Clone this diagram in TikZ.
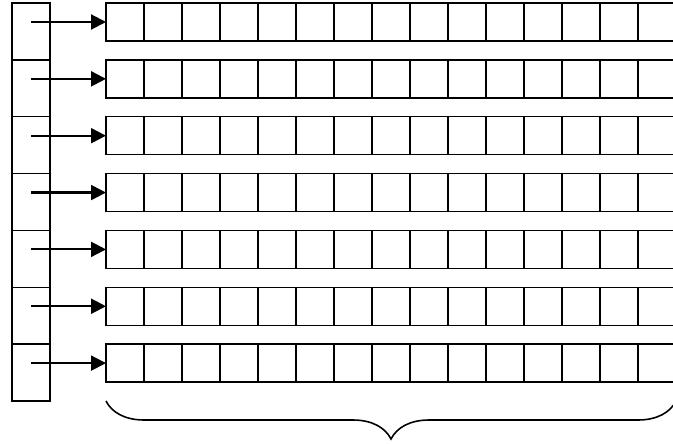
\documentclass[tikz,border=0pt]{standalone}
\usetikzlibrary{arrows.meta,positioning,decorations.pathreplacing}
\tikzset{
  ptr/.style={draw, line width=0.8pt, minimum width=0.76cm, minimum height=1.137cm, inner sep=0pt, outer sep=0pt},
  cell/.style={draw, line width=0.8pt, minimum width=0.76cm, minimum height=0.76cm, inner sep=0pt, outer sep=0pt},
  link/.style={-{Triangle[length=8.5pt,width=8.5pt]}, line width=1.2pt},
}
\begin{document}
\begin{tikzpicture}
  \useasboundingbox (0,0) rectangle (13.46,-8.86);
  \foreach \i in {0,...,6}{
    \node[ptr] (p\i) at (0.62,-0.629-1.137*\i) {};
    \node[cell, anchor=north west] (c\i-0) at (2.12,-0.06-1.137*\i) {};
    \foreach \j [remember=\j as \k (initially 0)] in {1,...,14}
      \node[cell, right=0pt of c\i-\k] (c\i-\j) {};
    \coordinate (s\i) at (p\i.center |- c\i-0.west);
    \draw[link] (s\i) -- (c\i-0.west);
  }
  \draw[line width=0.9pt, decorate, decoration={brace, amplitude=0.76cm}]
    (c6-14.south east |- 0,-8.02) -- (c6-0.south west |- 0,-8.02);
\end{tikzpicture}
\end{document}
